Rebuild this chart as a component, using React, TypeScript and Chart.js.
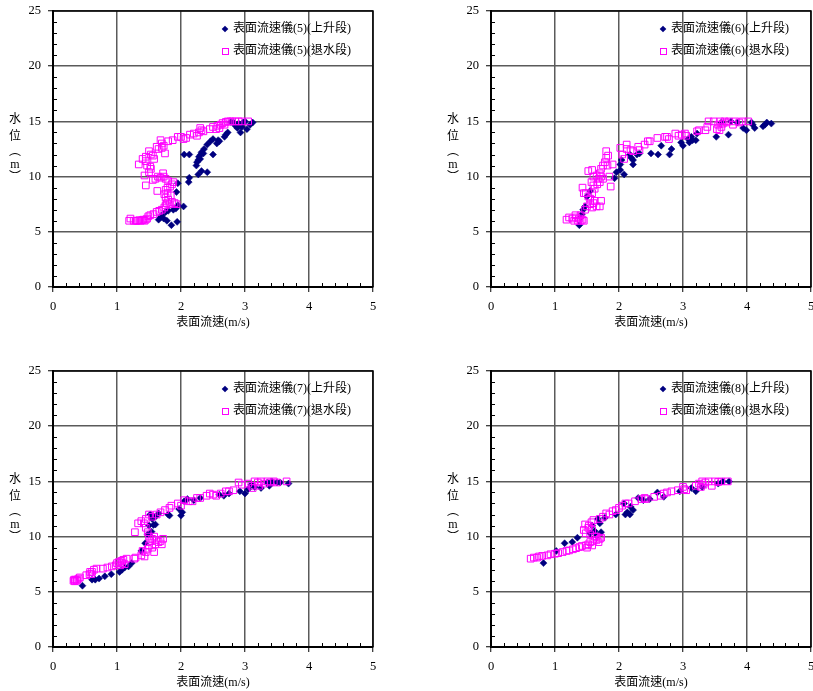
import React, { useEffect, useRef } from 'react';
import { Chart, registerables } from 'chart.js';

Chart.register(...registerables);

type Pt = [number, number];

// ---------- axis / text ----------
const xTickValues = [0, 1, 2, 3, 4, 5];
const yTickValues = [0, 5, 10, 15, 20, 25];
const xTitle = '表面流速(m/s)';
const yTitleChars = ['水', '位', '︵', 'm', '︶'];
const gaugeIds = ['5', '6', '7', '8'];
const riseLabel = (g: string) => `表面流速儀(${g})(上升段)`;
const fallLabel = (g: string) => `表面流速儀(${g})(退水段)`;

// ---------- data: [surface velocity (m/s), stage (m)] ----------
const rise5: Pt[] = [
  [1.65, 6.1], [1.68, 6.3], [1.7, 6.5], [1.73, 6.2], [1.78, 6.0], [1.85, 5.6], [1.94, 5.9], [1.76, 6.8],
  [1.8, 6.9], [1.88, 7.0], [1.92, 7.1], [1.95, 7.4], [2.04, 7.3], [1.93, 8.6], [1.95, 9.4], [2.12, 9.5],
  [2.13, 9.9], [2.05, 12.0], [2.13, 12.0], [2.27, 10.2], [2.32, 10.5], [2.41, 10.4], [2.24, 11.0], [2.25, 11.3],
  [2.27, 11.5], [2.28, 11.8], [2.3, 11.6], [2.31, 12.0], [2.32, 12.2], [2.35, 12.1], [2.36, 12.5], [2.41, 12.9],
  [2.46, 13.2], [2.5, 13.4], [2.5, 12.0], [2.56, 13.0], [2.58, 13.3], [2.6, 13.2], [2.68, 13.6], [2.7, 13.8],
  [2.73, 14.0], [2.82, 14.9], [2.85, 14.6], [2.88, 14.4], [2.9, 14.8], [2.93, 14.0], [2.95, 14.5], [2.97, 14.9],
  [3.03, 14.3], [3.08, 14.7], [3.12, 14.9], [3.0, 15.0], [2.78, 14.95],
];
const fall5: Pt[] = [
  [1.19, 6.0], [1.21, 6.2], [1.26, 6.0], [1.29, 6.0], [1.31, 6.0], [1.33, 6.0], [1.35, 6.05], [1.37, 6.0],
  [1.39, 6.05], [1.41, 6.1], [1.43, 6.0], [1.45, 6.1], [1.47, 6.2], [1.49, 6.4], [1.52, 6.5], [1.57, 6.6],
  [1.62, 6.8], [1.66, 6.9], [1.7, 7.0], [1.74, 7.2], [1.76, 7.4], [1.78, 7.6], [1.82, 7.5], [1.86, 7.7],
  [1.9, 7.6], [1.93, 7.5], [1.8, 7.9], [1.76, 8.1], [1.74, 8.4], [1.79, 8.5], [1.84, 8.3], [1.63, 8.7],
  [1.76, 8.8], [1.79, 9.0], [1.83, 9.1], [1.86, 9.3], [1.88, 9.5], [1.8, 9.6], [1.76, 9.8], [1.73, 10.0],
  [1.68, 9.9], [1.64, 10.0], [1.6, 9.8], [1.56, 9.7], [1.72, 10.3], [1.45, 9.2], [1.43, 10.1], [1.5, 10.4],
  [1.53, 10.7], [1.52, 10.9], [1.47, 11.0], [1.34, 11.1], [1.4, 11.6], [1.45, 11.4], [1.45, 11.8], [1.5, 12.3],
  [1.53, 12.0], [1.56, 11.9], [1.58, 11.6], [1.62, 12.7], [1.65, 12.5], [1.68, 13.3], [1.7, 13.0], [1.73, 12.8],
  [1.75, 12.1], [1.7, 12.6], [1.8, 13.2], [1.87, 13.3], [1.95, 13.6], [2.0, 13.6], [2.04, 13.4], [2.08, 13.5],
  [2.14, 13.8], [2.2, 13.9], [2.25, 13.7], [2.28, 14.0], [2.32, 14.2], [2.3, 14.4], [2.35, 14.1], [2.45, 14.3],
  [2.5, 14.5], [2.55, 14.3], [2.57, 14.6], [2.6, 14.4], [2.62, 14.7], [2.65, 14.85], [2.68, 14.7], [2.7, 14.95],
  [2.73, 15.0], [2.77, 15.0], [2.8, 15.0], [2.85, 15.0], [2.9, 15.0], [2.95, 15.0], [3.05, 15.0],
];

const rise6: Pt[] = [
  [1.38, 5.6], [1.4, 6.3], [1.42, 6.6], [1.44, 7.0], [1.47, 7.3], [1.5, 8.2], [1.55, 8.7], [1.93, 9.85],
  [1.96, 10.4], [2.02, 10.6], [2.08, 10.2], [2.02, 11.1], [2.04, 11.5], [2.17, 12.0], [2.19, 11.7], [2.22, 11.1],
  [2.22, 11.5], [2.32, 12.1], [2.28, 12.0], [2.5, 12.1], [2.61, 12.0], [2.66, 12.8], [2.79, 12.0], [2.82, 12.5],
  [2.97, 13.1], [3.0, 12.8], [3.08, 13.4], [3.1, 13.1], [3.13, 13.6], [3.15, 13.3], [3.2, 13.3], [3.22, 13.9],
  [3.52, 13.6], [3.71, 13.8], [3.94, 14.4], [3.99, 14.2], [4.07, 14.9], [4.09, 14.7], [4.12, 14.4], [4.25, 14.55],
  [4.28, 14.7], [4.31, 14.9], [4.38, 14.8], [3.6, 14.9], [3.75, 15.0], [3.85, 14.9],
];
const fall6: Pt[] = [
  [1.18, 6.1], [1.22, 6.3], [1.27, 6.2], [1.3, 6.0], [1.33, 6.3], [1.36, 6.0], [1.38, 6.2], [1.4, 6.0],
  [1.43, 6.1], [1.45, 6.0], [1.32, 6.5], [1.4, 6.5], [1.47, 7.0], [1.5, 7.3], [1.55, 7.5], [1.58, 7.2],
  [1.6, 7.6], [1.65, 7.3], [1.7, 7.3], [1.72, 7.8], [1.62, 7.8], [1.55, 8.0], [1.48, 8.5], [1.52, 8.2],
  [1.58, 8.5], [1.62, 8.9], [1.66, 9.3], [1.7, 9.5], [1.75, 9.8], [1.6, 9.2], [1.57, 9.5], [1.6, 10.0],
  [1.65, 10.1], [1.7, 10.3], [1.72, 10.7], [1.75, 11.0], [1.78, 11.3], [1.82, 11.0], [1.85, 10.0], [1.87, 9.1],
  [1.8, 11.7], [1.83, 11.9], [1.8, 12.3], [1.52, 10.5], [1.58, 10.6], [1.43, 9.0], [1.45, 8.5], [1.9, 11.1],
  [1.68, 9.8], [1.72, 10.0], [2.02, 12.6], [2.05, 12.0], [2.08, 11.6], [2.12, 12.9], [2.12, 12.5], [2.18, 12.4],
  [2.22, 12.3], [2.3, 12.7], [2.32, 12.4], [2.4, 12.9], [2.45, 13.2], [2.48, 13.2], [2.6, 13.5], [2.72, 13.6],
  [2.75, 13.6], [2.78, 13.4], [2.88, 13.9], [2.93, 13.7], [2.98, 13.8], [3.03, 13.9], [3.05, 13.7], [3.22, 14.1],
  [3.25, 14.2], [3.35, 14.2], [3.38, 14.5], [3.4, 15.0], [3.48, 15.0], [3.53, 14.3], [3.55, 14.7], [3.58, 15.0],
  [3.62, 14.8], [3.65, 15.0], [3.68, 14.9], [3.72, 15.0], [3.78, 14.7], [3.82, 15.0], [3.88, 14.9], [3.93, 15.0],
  [4.02, 15.0], [3.6, 14.5], [3.57, 14.2],
];

const rise7: Pt[] = [
  [0.46, 5.55], [0.61, 6.1], [0.66, 6.1], [0.72, 6.2], [0.81, 6.4], [0.91, 6.6], [1.04, 6.8], [1.08, 7.0],
  [1.12, 7.2], [1.18, 7.3], [1.23, 7.6], [1.38, 8.7], [1.44, 9.4], [1.48, 10.2], [1.5, 11.0], [1.54, 10.45],
  [1.57, 11.06], [1.55, 11.6], [1.6, 11.1], [1.6, 11.8], [1.52, 12.0], [1.65, 12.1], [1.8, 12.0], [1.82, 11.9],
  [1.97, 12.5], [2.0, 11.9], [2.02, 12.2], [2.05, 13.2], [2.1, 13.4], [2.2, 13.3], [2.3, 13.5], [2.6, 13.8],
  [2.67, 13.7], [2.75, 13.9], [2.92, 14.1], [3.0, 13.9], [3.05, 14.3], [3.15, 14.5], [3.25, 14.4], [3.38, 14.6],
  [3.5, 14.9], [3.55, 14.9], [3.68, 14.8], [3.1, 14.7], [3.35, 14.9], [3.42, 15.0],
];
const fall7: Pt[] = [
  [0.32, 6.0], [0.34, 5.95], [0.35, 6.1], [0.37, 6.0], [0.38, 6.1], [0.4, 6.2], [0.42, 6.3], [0.33, 6.1],
  [0.52, 6.5], [0.57, 6.6], [0.58, 6.8], [0.61, 6.8], [0.64, 7.0], [0.68, 7.1], [0.6, 6.6], [0.78, 7.1],
  [0.85, 7.2], [0.92, 7.3], [0.98, 7.4], [1.0, 7.6], [1.03, 7.7], [1.07, 7.8], [1.1, 7.9], [1.15, 8.0],
  [1.12, 7.5], [1.05, 7.4], [1.08, 7.6], [1.27, 8.0], [1.29, 8.1], [1.38, 8.3], [1.4, 8.7], [1.43, 8.2],
  [1.45, 8.6], [1.48, 8.9], [1.5, 9.2], [1.52, 9.6], [1.55, 9.8], [1.58, 10.0], [1.62, 9.7], [1.65, 9.5],
  [1.68, 9.6], [1.7, 9.3], [1.72, 9.8], [1.58, 8.6], [1.55, 9.0], [1.6, 9.3], [1.5, 10.0], [1.48, 10.4],
  [1.45, 10.8], [1.42, 11.2], [1.38, 11.4], [1.33, 11.2], [1.28, 10.4], [1.45, 11.6], [1.5, 12.0], [1.55, 11.8],
  [1.62, 12.0], [1.68, 12.2], [1.75, 12.4], [1.82, 12.6], [1.85, 12.8], [1.95, 13.0], [2.0, 12.8], [2.05, 13.3],
  [2.12, 13.2], [2.18, 13.2], [2.25, 13.5], [2.3, 13.5], [2.4, 13.7], [2.45, 13.9], [2.5, 13.8], [2.55, 13.7],
  [2.62, 13.9], [2.7, 14.1], [2.75, 14.1], [2.82, 14.2], [2.9, 14.9], [2.95, 14.7], [3.05, 14.8], [3.1, 14.6],
  [3.12, 14.4], [3.15, 15.0], [3.2, 14.9], [3.22, 14.6], [3.25, 15.0], [3.3, 14.8], [3.35, 15.0], [3.4, 14.9],
  [3.45, 15.0], [3.5, 14.9], [3.65, 15.0],
];

const rise8: Pt[] = [
  [0.82, 7.6], [1.02, 8.7], [1.15, 9.4], [1.27, 9.5], [1.35, 9.9], [1.58, 11.0], [1.62, 10.5], [1.67, 11.6],
  [1.7, 11.2], [1.72, 10.4], [1.78, 11.7], [1.95, 12.0], [2.08, 13.0], [2.1, 12.0], [2.13, 12.2], [2.17, 12.0],
  [2.18, 12.7], [2.22, 12.4], [2.3, 13.5], [2.38, 13.3], [2.48, 13.4], [2.6, 14.0], [2.7, 13.6], [2.95, 14.1],
  [3.13, 14.4], [3.2, 14.1], [3.3, 14.5], [3.55, 14.8], [3.62, 15.0], [3.72, 15.0], [1.65, 10.1], [1.55, 10.3],
];
const fall8: Pt[] = [
  [0.62, 8.0], [0.67, 8.1], [0.72, 8.1], [0.75, 8.2], [0.8, 8.25], [0.88, 8.3], [0.93, 8.4], [1.0, 8.45],
  [1.05, 8.5], [1.12, 8.6], [1.18, 8.7], [1.22, 8.75], [1.28, 8.85], [1.33, 8.95], [1.38, 9.05], [1.42, 9.15],
  [1.48, 9.2], [1.52, 9.3], [1.55, 9.5], [1.6, 9.6], [1.65, 9.7], [1.7, 9.8], [1.72, 9.9], [1.62, 10.0],
  [1.55, 10.2], [1.48, 10.3], [1.45, 10.6], [1.47, 11.1], [1.53, 11.0], [1.57, 11.3], [1.6, 11.5], [1.52, 10.8],
  [1.58, 10.6], [1.65, 10.0], [1.7, 11.6], [1.75, 11.8], [1.8, 12.1], [1.85, 12.0], [1.9, 12.3], [1.95, 12.4],
  [2.0, 12.6], [2.05, 12.8], [2.1, 13.0], [2.15, 13.0], [2.25, 13.2], [2.35, 13.4], [2.4, 13.5], [2.42, 13.4],
  [2.55, 13.6], [2.65, 13.7], [2.7, 13.9], [2.75, 14.0], [2.82, 14.1], [2.92, 14.2], [3.0, 14.5], [3.05, 14.2],
  [3.02, 14.3], [3.2, 14.6], [3.25, 14.8], [3.3, 15.0], [3.35, 14.9], [3.4, 15.0], [3.45, 14.6], [3.5, 15.0],
  [3.55, 14.95], [3.6, 15.0], [3.7, 15.0], [3.32, 14.7], [3.28, 14.5], [1.58, 9.2], [1.5, 9.0], [1.68, 9.5],
];

const riseSeries = [rise5, rise6, rise7, rise8];
const fallSeries = [fall5, fall6, fall7, fall8];

// ---------- styling ----------
const RISE_COLOR = '#000080';
const FALL_COLOR = '#FF00FF';
const SERIF = "'Liberation Serif', 'Times New Roman', 'Noto Sans CJK TC', serif";
const CANVAS_W = 406;
const CANVAS_H = 345;
const AREA_LEFT = 53;
const AREA_TOP = 11;
const AREA_RIGHT = 373;
const AREA_BOTTOM = 287;

const decorPlugin = {
  id: 'decor',
  beforeDatasetsDraw(chart: any) {
    const { ctx, chartArea } = chart;
    const { left, right, top, bottom } = chartArea;
    const xs = chart.scales.x;
    const ys = chart.scales.y;
    ctx.save();
    // frame top/right
    ctx.strokeStyle = '#000';
    ctx.lineWidth = 1.5;
    ctx.beginPath();
    ctx.moveTo(left, top);
    ctx.lineTo(right, top);
    ctx.lineTo(right, bottom);
    ctx.stroke();
    // minor ticks (inward)
    ctx.lineWidth = 1;
    ctx.beginPath();
    for (let v = 1; v < 25; v++) {
      if (v % 5 === 0) continue;
      const y = Math.round(ys.getPixelForValue(v)) + 0.5;
      ctx.moveTo(left, y);
      ctx.lineTo(left + 4, y);
    }
    for (let i = 1; i < 25; i++) {
      if (i % 5 === 0) continue;
      const x = Math.round(xs.getPixelForValue(i * 0.2)) + 0.5;
      ctx.moveTo(x, bottom);
      ctx.lineTo(x, bottom - 4);
    }
    ctx.stroke();
    ctx.restore();
  },
  afterDraw(chart: any) {
    const { ctx, chartArea } = chart;
    const { left, right, top, bottom } = chartArea;
    ctx.save();
    ctx.fillStyle = '#000';
    ctx.textBaseline = 'middle';
    // x title
    ctx.textAlign = 'center';
    ctx.font = `12px ${SERIF}`;
    ctx.fillText(xTitle, (left + right) / 2, bottom + 36);
    // y title (vertical stacked)
    const yOff = [109, 126, 141, 154, 167];
    yTitleChars.forEach((ch, i) => {
      ctx.fillText(ch, 15, top + yOff[i]);
    });
    // legend
    const ds = chart.data.datasets;
    const mx = right - 148;
    const tx = right - 140;
    const rows = [top + 18, top + 40];
    // rise marker: filled diamond
    ctx.fillStyle = ds[0].backgroundColor;
    ctx.beginPath();
    ctx.moveTo(mx, rows[0] - 3.3);
    ctx.lineTo(mx + 3.3, rows[0]);
    ctx.lineTo(mx, rows[0] + 3.3);
    ctx.lineTo(mx - 3.3, rows[0]);
    ctx.closePath();
    ctx.fill();
    // fall marker: open square
    ctx.strokeStyle = ds[1].borderColor;
    ctx.lineWidth = 1;
    ctx.strokeRect(Math.round(mx - 3) + 0.5, Math.round(rows[1] - 3) + 0.5, 6, 6);
    ctx.fillStyle = '#000';
    ctx.textAlign = 'left';
    ctx.font = `12px ${SERIF}`;
    ctx.fillText(ds[0].label, tx, rows[0]);
    ctx.fillText(ds[1].label, tx, rows[1]);
    ctx.restore();
  },
};

const GRID_COLOR = '#5a5a5a';

function Panel({ index, left, top }: { index: number; left: number; top: number }) {
  const ref = useRef<HTMLCanvasElement>(null);
  useEffect(() => {
    if (!ref.current) return;
    const g = gaugeIds[index];
    const chart = new Chart(ref.current, {
      type: 'scatter',
      data: {
        datasets: [
          {
            label: riseLabel(g),
            data: riseSeries[index].map(([x, y]) => ({ x, y })),
            pointStyle: 'rectRot',
            pointRadius: 3.5,
            backgroundColor: RISE_COLOR,
            borderColor: RISE_COLOR,
            borderWidth: 0.5,
            order: 1,
          },
          {
            label: fallLabel(g),
            data: fallSeries[index].map(([x, y]) => ({ x, y })),
            pointStyle: 'rect',
            pointRadius: 4.7,
            backgroundColor: 'rgba(0,0,0,0)',
            borderColor: FALL_COLOR,
            borderWidth: 1,
            order: 0,
          },
        ],
      },
      options: {
        responsive: false,
        animation: false,
        devicePixelRatio: 1,
        events: [],
        layout: {
          padding: { left: 0, top: AREA_TOP, right: CANVAS_W - AREA_RIGHT, bottom: 0 },
        },
        plugins: {
          legend: { display: false },
          tooltip: { enabled: false },
          title: { display: false },
        },
        scales: {
          x: {
            type: 'linear',
            min: 0,
            max: 5,
            afterBuildTicks: (scale: any) => {
              scale.ticks = xTickValues.map((v) => ({ value: v }));
            },
            afterFit: (scale: any) => {
              scale.height = CANVAS_H - AREA_BOTTOM;
              scale.paddingLeft = 0;
              scale.paddingRight = 0;
              scale.paddingTop = 0;
              scale.paddingBottom = 0;
            },
            ticks: {
              color: '#000',
              font: { family: SERIF, size: 12.5 },
              padding: 7,
              maxRotation: 0,
              autoSkip: false,
            },
            grid: {
              color: GRID_COLOR,
              lineWidth: 1.5,
              drawTicks: true,
              tickLength: 5,
              tickColor: '#000',
              tickWidth: 1,
            },
            border: { display: true, color: '#000', width: 2 },
          },
          y: {
            type: 'linear',
            min: 0,
            max: 25,
            afterBuildTicks: (scale: any) => {
              scale.ticks = yTickValues.map((v) => ({ value: v }));
            },
            afterFit: (scale: any) => {
              scale.width = AREA_LEFT;
              scale.paddingLeft = 0;
              scale.paddingRight = 0;
              scale.paddingTop = 0;
              scale.paddingBottom = 0;
            },
            ticks: {
              color: '#000',
              font: { family: SERIF, size: 12.5 },
              padding: 7,
              autoSkip: false,
            },
            grid: {
              color: GRID_COLOR,
              lineWidth: 1.5,
              drawTicks: true,
              tickLength: 5,
              tickColor: '#000',
              tickWidth: 1,
            },
            border: { display: true, color: '#000', width: 2 },
          },
        },
      },
      plugins: [decorPlugin],
    } as any);
    return () => chart.destroy();
  }, [index]);
  return (
    <div style={{ position: 'absolute', left, top, width: CANVAS_W, height: CANVAS_H }}>
      <canvas ref={ref} width={CANVAS_W} height={CANVAS_H} style={{ display: 'block' }} />
    </div>
  );
}

export default function App() {
  useEffect(() => {
    document.body.style.margin = '0';
    document.body.style.overflow = 'hidden';
  }, []);
  return (
    <div
      style={{
        position: 'absolute',
        left: 0,
        top: 0,
        width: 813,
        height: 691,
        overflow: 'hidden',
        background: '#fff',
      }}
    >
      <Panel index={0} left={0} top={0} />
      <Panel index={1} left={438} top={0} />
      <Panel index={2} left={0} top={360} />
      <Panel index={3} left={438} top={360} />
    </div>
  );
}
